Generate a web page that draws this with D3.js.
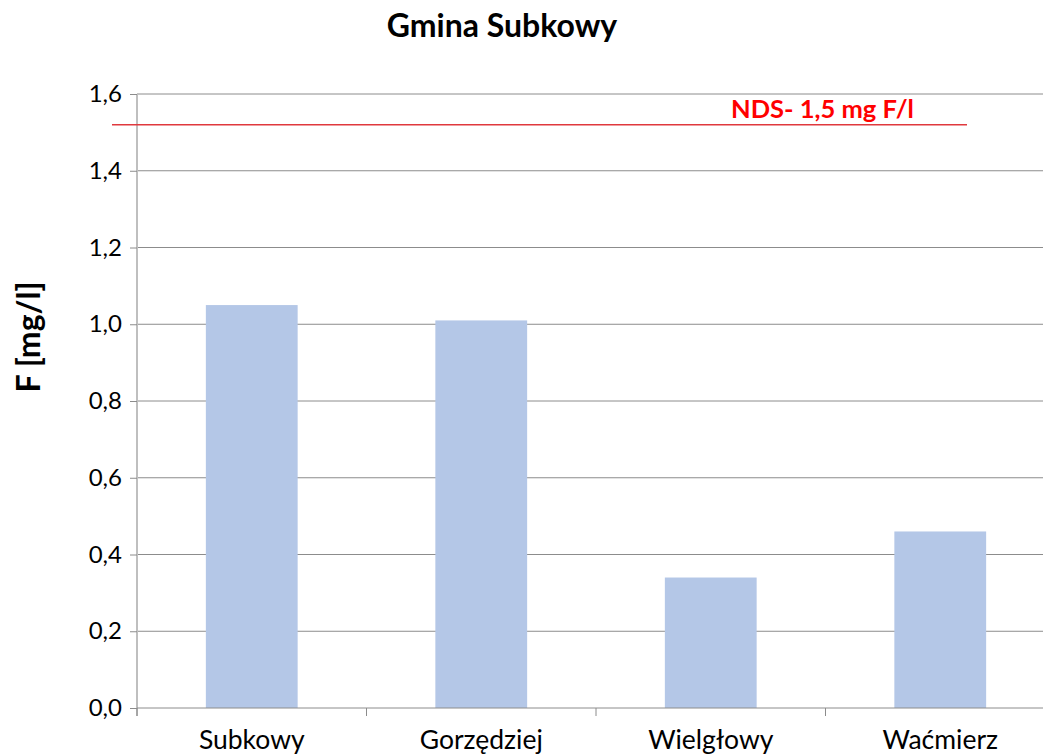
<!DOCTYPE html>
<html>
<head>
<meta charset="utf-8">
<script src="https://cdn.jsdelivr.net/npm/d3@7"></script>
<style>
  body { margin: 0; background: #fff; }
  svg { display: block; font-family: Lato, "DejaVu Sans", sans-serif; }
</style>
</head>
<body>
<svg width="1043" height="756"></svg>
<script>
// data
var categories = ["Subkowy", "Gorzędziej", "Wielgłowy", "Waćmierz"];
var values = [1.05, 1.01, 0.34, 0.46];
var yTicks = [0, 0.2, 0.4, 0.6, 0.8, 1.0, 1.2, 1.4, 1.6];
var limitValue = 1.52;
var limitLabel = "NDS- 1,5 mg F/l";

var svg = d3.select("svg");
var plotLeft = 137, plotRight = 1055, plotTop = 94, plotBottom = 708;

var x = d3.scaleBand()
          .domain(categories)
          .range([plotLeft, plotRight])
          .paddingInner(0.6)
          .paddingOuter(0.3);
var y = d3.scaleLinear().domain([0, 1.6]).range([plotBottom, plotTop]);

var fmt = function(d) { return d3.format(".1f")(d).replace(".", ","); };

// gridlines
svg.append("g").selectAll("line")
   .data(yTicks.slice(1))
   .enter().append("line")
   .attr("x1", plotLeft).attr("x2", plotRight)
   .attr("y1", function(d) { return y(d); })
   .attr("y2", function(d) { return y(d); })
   .attr("stroke", "#8c8c8c").attr("stroke-width", 1);

// y axis
var yAxis = svg.append("g")
   .attr("transform", "translate(" + plotLeft + ",0)")
   .call(d3.axisLeft(y).tickValues(yTicks).tickFormat(fmt).tickSize(7).tickPadding(8));
yAxis.select(".domain").attr("stroke", "#bfbfbf").attr("stroke-width", 2)
     .attr("d", "M0," + (plotBottom + 8) + "V" + plotTop);
yAxis.selectAll(".tick line").attr("stroke", "#8c8c8c");
yAxis.selectAll("text").attr("font-size", 24).attr("fill", "#000").attr("font-family", "Lato");

// bars
svg.append("g").selectAll("rect")
   .data(values)
   .enter().append("rect")
   .attr("x", function(d, i) { return x(categories[i]); })
   .attr("y", function(d) { return y(d); })
   .attr("width", x.bandwidth())
   .attr("height", function(d) { return plotBottom - y(d); })
   .attr("fill", "#b4c7e7");

// x axis line + category boundary ticks
svg.append("line")
   .attr("x1", plotLeft).attr("x2", plotRight)
   .attr("y1", plotBottom).attr("y2", plotBottom)
   .attr("stroke", "#8c8c8c").attr("stroke-width", 1);
var step = x.step();
svg.append("g").selectAll("line")
   .data(d3.range(categories.length + 1))
   .enter().append("line")
   .attr("x1", function(i) { return plotLeft + i * step; })
   .attr("x2", function(i) { return plotLeft + i * step; })
   .attr("y1", plotBottom).attr("y2", plotBottom + 8)
   .attr("stroke", "#8c8c8c");

svg.append("g").selectAll("text")
   .data(categories)
   .enter().append("text")
   .attr("x", function(d) { return x(d) + x.bandwidth() / 2; })
   .attr("y", 749)
   .attr("text-anchor", "middle")
   .attr("font-size", 26.5)
   .text(function(d) { return d; });

// limit line
svg.append("line")
   .attr("x1", 112).attr("x2", 967)
   .attr("y1", y(limitValue)).attr("y2", y(limitValue))
   .attr("stroke", "#e0393e").attr("stroke-width", 1.5);
svg.append("text")
   .attr("x", 731).attr("y", 118)
   .attr("font-size", 25.5).attr("font-weight", "bold")
   .attr("fill", "#ff0000")
   .text(limitLabel);

// title
svg.append("text")
   .attr("x", 502).attr("y", 37)
   .attr("text-anchor", "middle")
   .attr("font-size", 32).attr("font-weight", "bold")
   .text("Gmina Subkowy");

// y label
svg.append("text")
   .attr("transform", "translate(40,337) rotate(-90)")
   .attr("text-anchor", "middle")
   .attr("font-size", 32).attr("font-weight", "bold")
   .text("F [mg/l]");
</script>
</body>
</html>
